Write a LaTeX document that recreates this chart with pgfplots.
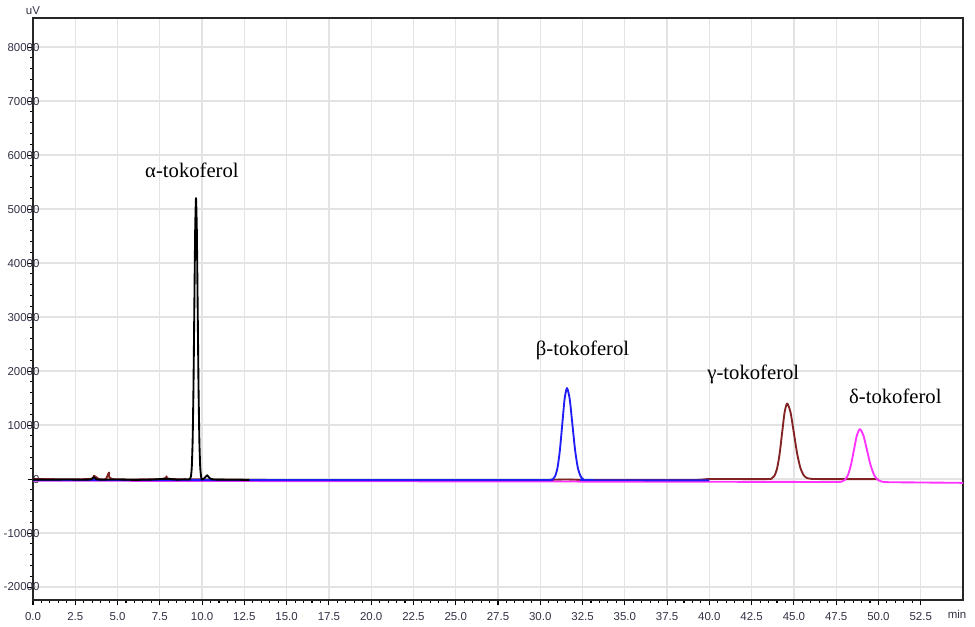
\documentclass[border=0pt]{standalone}
\usepackage{fontspec}
\setmainfont{Liberation Serif}
\newfontfamily\tickfont{Liberation Sans}
\usepackage{pgfplots}
\pgfplotsset{compat=1.18}
\definecolor{tracebrown}{RGB}{130,35,35}
\definecolor{traceblue}{RGB}{30,30,245}
\definecolor{tracemag}{RGB}{255,50,255}
\definecolor{ticktxt}{RGB}{50,50,70}
\begin{document}
\begin{tikzpicture}
\begin{axis}[
  scale only axis,
  width=697.5pt, height=436.5pt,
  xmin=0, xmax=55, ymin=-22400, ymax=85400,
  xtick={0,2.5,...,52.5},
  ytick={-20000,-10000,...,80000},
  minor x tick num=4, minor y tick num=4,
  tick align=outside,
  major tick length=4pt, minor tick length=2.2pt,
  tick style={black, line width=0.8pt},
  xtick pos=bottom, ytick pos=left,
  grid=major,
  major grid style={gray!22, line width=1pt},
  axis line style={black!85, line width=1.6pt},
  scaled y ticks=false,
  /pgf/number format/assume math mode=true,
  xticklabel style={font=\tickfont\fontsize{8.6}{10}\selectfont, text=ticktxt, inner sep=0pt, anchor=north, yshift=-5pt,
     /pgf/number format/.cd, fixed, fixed zerofill, precision=1},
  yticklabel style={font=\tickfont\fontsize{8.6}{10}\selectfont, text=ticktxt, inner sep=0pt, anchor=east, xshift=9pt,
     /pgf/number format/.cd, fixed, precision=0, 1000 sep={}},
  every axis plot/.append style={line width=1.4pt, line join=round},
]
% brown (gamma)
\addplot[tracebrown, smooth, tension=0.4] coordinates {
(0,0) (3.3,0) (3.6,600) (3.9,0) (4.3,0) (4.5,1200) (4.7,0) (7.6,0) (7.9,500) (8.2,0) (12,-100) (15,-180) (25,-190) (30,-190) (31.5,-80) (33,-190) (39,-180) (40,0)
(43.4,0) (43.70,155) (43.85,615) (44.00,1894) (44.15,4546) (44.30,8491) (44.45,12355) (44.60,14000)
(44.80,12355) (45.00,8491) (45.20,4546) (45.40,1894) (45.60,615) (45.80,155) (46.0,50) (46.5,0) (50,0)};
% magenta (delta)
\addplot[tracemag, smooth, tension=0.4] coordinates {
(0,-300) (5,-320) (10,-350) (15,-380) (20,-400) (25,-430) (30,-450) (35,-480) (40,-500) (45,-530)
(47.5,-545) (47.85,-441) (48.025,-120) (48.2,776) (48.375,2632) (48.55,5394) (48.725,8099) (48.9,9250)
(49.11,8099) (49.32,5394) (49.53,2632) (49.74,776) (49.95,-120) (50.16,-441) (50.5,-570) (52,-620) (55,-700)};
% blue (beta)
\addplot[traceblue, smooth, tension=0.4] coordinates {
(0,-200) (10,-200) (20,-200) (30,-200) (30.6,-200) (30.74,-11) (30.88,548) (31.02,2107) (31.16,5336) (31.30,10141) (31.44,14847) (31.58,16850)
(31.74,14847) (31.90,10141) (32.06,5336) (32.22,2107) (32.38,548) (32.54,-11) (32.8,-200) (40,-250)};
% black (alpha)
\addplot[black, smooth, tension=0.3] coordinates {
(0,-100) (1,-120) (2,-80) (3,-120) (3.45,-50) (3.6,350) (3.75,-50) (4,-100) (5,-80) (6,-150) (7,-100) (7.9,50) (8.5,-100) (9,-60) (9.25,-80)
(9.34,479) (9.39,2189) (9.44,6955) (9.49,16830) (9.54,31523) (9.59,45914) (9.64,52040)
(9.69,45914) (9.74,31523) (9.79,16830) (9.84,6955) (9.89,2189) (9.94,479) (9.99,-100)
(10.15,200) (10.3,700) (10.45,150) (10.7,-80) (11.5,-120) (12.8,-150)};
\node[font=\fontsize{15.5}{18}\selectfont] at (axis cs:9.4,57200) {α-tokoferol};
\node[font=\fontsize{15.5}{18}\selectfont] at (axis cs:32.5,23900) {β-tokoferol};
\node[font=\fontsize{15.5}{18}\selectfont] at (axis cs:42.6,19400) {γ-tokoferol};
\node[font=\fontsize{15.5}{18}\selectfont] at (axis cs:51.0,15400) {δ-tokoferol};
\end{axis}
\node[font=\tickfont\fontsize{8.6}{10}\selectfont, text=ticktxt, anchor=south, inner sep=0pt, yshift=2pt] at (current axis.north west) {uV};
\node[font=\tickfont\fontsize{8.6}{10}\selectfont, text=ticktxt, anchor=north, inner sep=0pt] at (693pt,-7.5pt) {min};
\pgfresetboundingbox
\useasboundingbox (-24.75pt,-19.5pt) rectangle (706.5pt,450pt);
\end{tikzpicture}
\end{document}
